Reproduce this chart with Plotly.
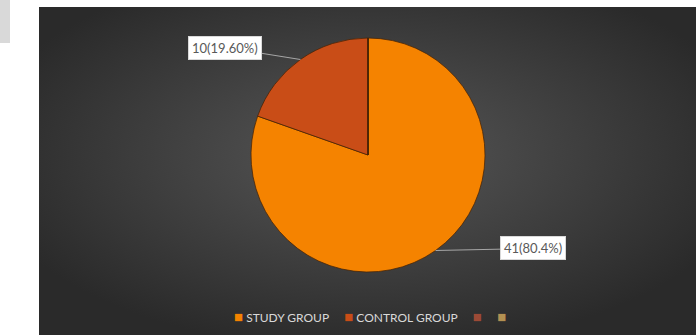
import math, base64
import plotly.graph_objects as go

# ---- data ----
labels = ["STUDY GROUP", "CONTROL GROUP", " ", "  "]
values = [41, 10, 0, 0]
label_texts = ["41(80.4%)", "10(19.60%)"]
colors = ["#F58300", "#C94D17", "#9C4A36", "#B39152"]

W, H = 696, 335
# pie geometry (pixels)
cx, cy, r = 368, 155, 117

fig = go.Figure()
fig.add_trace(go.Pie(
    labels=labels, values=values, sort=False, direction="clockwise", rotation=0,
    marker=dict(colors=colors, line=dict(color="rgba(70,35,5,0.75)", width=1)),
    textinfo="none", hoverinfo="label+value+percent",
    domain=dict(x=[(cx - r) / W, (cx + r) / W], y=[1 - (cy + r) / H, 1 - (cy - r) / H]),
    showlegend=False,
))

# data label annotations: point at mid-angle of each slice on the rim
total = sum(values)
offsets = [(97, -2), (-75, -12)]
start = 0.0
for i in range(2):
    frac = values[i] / total
    mid = (start + frac / 2) * 2 * math.pi  # clockwise from 12 o'clock
    start += frac
    px = cx + r * math.sin(mid)
    py = cy - r * math.cos(mid)
    fig.add_annotation(
        x=px / W, y=1 - py / H, xref="paper", yref="paper",
        text=label_texts[i], showarrow=True, arrowhead=0, arrowwidth=1,
        arrowcolor="#A6A6A6", ax=offsets[i][0], ay=offsets[i][1],
        bgcolor="#FFFFFF", bordercolor="#D9D9D9", borderwidth=1, borderpad=3,
        font=dict(family="Lato, Open Sans, sans-serif", size=13, color="#595959"),
    )

# legend built as one centred line of text, from the labels and colours
legend_parts = []
for lab, col in zip(labels, colors):
    name = lab.strip()
    legend_parts.append(f'<span style="color:{col};font-size:15px">■</span>' + (f' {name}' if name else ''))
fig.add_annotation(
    x=370 / W, y=1 - 316 / H, xref="paper", yref="paper", showarrow=False,
    text="&nbsp;&nbsp;&nbsp;&nbsp;&nbsp;".join(legend_parts), xanchor="center", yanchor="middle",
    font=dict(family="Lato, Open Sans, sans-serif", size=12, color="#D9D9D9"),
)

svg = (
    '<svg xmlns="http://www.w3.org/2000/svg" width="657" height="328" preserveAspectRatio="none">'
    '<defs><radialGradient id="g" cx="50%" cy="45%" r="60%">'
    '<stop offset="0%" stop-color="#575757"/><stop offset="100%" stop-color="#2A2A2A"/>'
    '</radialGradient></defs><rect width="657" height="328" fill="url(#g)"/></svg>'
)
src = "data:image/svg+xml;base64," + base64.b64encode(svg.encode()).decode()

fig.update_layout(
    width=W, height=H, margin=dict(l=0, r=0, t=0, b=0),
    paper_bgcolor="#FFFFFF", showlegend=False,
    images=[dict(source=src, xref="paper", yref="paper", x=39 / W, y=1 - 7 / H,
                 sizex=1 - 39 / W, sizey=1 - 7 / H, sizing="stretch",
                 xanchor="left", yanchor="top", layer="below")],
    shapes=[dict(type="rect", xref="paper", yref="paper", x0=0, x1=10 / W,
                 y0=1 - 43 / H, y1=1, fillcolor="#D9D9D9", line=dict(width=0), layer="below")],
)
fig.write_html("out.html")
